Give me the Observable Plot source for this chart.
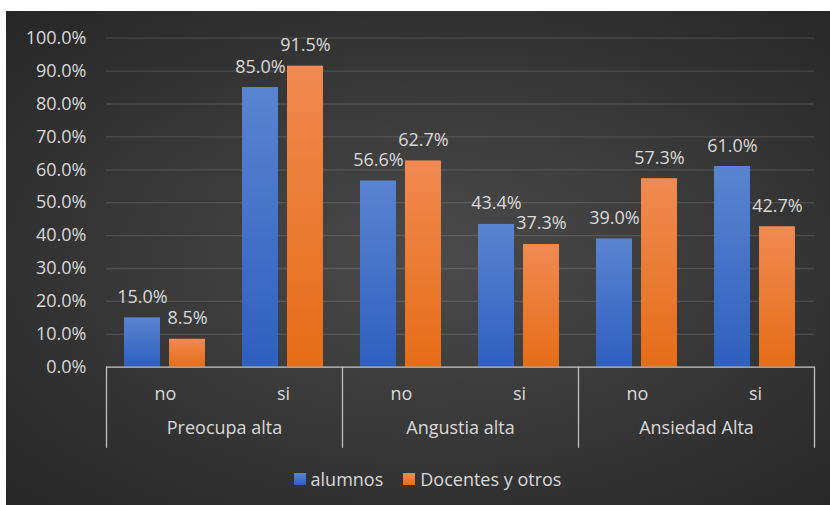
<!DOCTYPE html>
<html>
<head>
<meta charset="utf-8">
<script src="https://cdn.jsdelivr.net/npm/d3@7"></script>
<script src="https://cdn.jsdelivr.net/npm/@observablehq/plot@0.6"></script>
<style>
  html, body { margin: 0; padding: 0; background: #ffffff; width: 830px; height: 505px; overflow: hidden; }
  #panel {
    position: absolute; left: 6px; top: 11px; width: 824px; height: 494px;
    background: radial-gradient(ellipse farthest-corner at 52% 50%, #4b4b4b 0%, #3c3c3c 40%, #262626 100%);
    font-family: "Open Sans", sans-serif; color: #d9d9d9;
  }
  #legend {
    position: absolute; left: 0; top: 448px; width: 824px; height: 39px;
    display: flex; justify-content: center; align-items: center; padding-left: 19px; box-sizing: border-box;
    font-size: 18px; color: #d9d9d9;
  }
  .item { display: flex; align-items: center; margin: 0 10px; }
  .sw { width: 12px; height: 12px; margin-right: 5px; }
</style>
</head>
<body>
<div id="panel"><div id="chart"></div><div id="legend"></div></div>
<script>
// ---- data ----
const groups = ["Preocupa alta", "Angustia alta", "Ansiedad Alta"];
const subs = ["no", "si"];
const series = ["alumnos", "Docentes y otros"];
const alumnos = [0.150, 0.850, 0.566, 0.434, 0.390, 0.610];
const docentes = [0.085, 0.915, 0.627, 0.373, 0.573, 0.427];
const yTicks = [0, 0.1, 0.2, 0.3, 0.4, 0.5, 0.6, 0.7, 0.8, 0.9, 1.0];
const seriesColors = [["#5b84d0", "#2f5fbf"], ["#f08a52", "#e56d17"]];

// ---- build table ----
const keys = [];
groups.forEach(g => subs.forEach(s => keys.push(g + "|" + s)));
const rows = [];
keys.forEach((k, i) => {
  rows.push({key: k, series: series[0], value: alumnos[i]});
  rows.push({key: k, series: series[1], value: docentes[i]});
});
const fmt = d3.format(".1%");
const subOf = k => k.split("|")[1];

const W = 824, H = 448, mT = 26.7, mB = 92.3;
const plotH = H - mT - mB;
const lineColor = "#bfbfbf";
const FS = 18;

const sepOpts = {stroke: lineColor, strokeWidth: 1.3, insetTop: plotH, insetBottom: -80};

const plot = Plot.plot({
  width: W, height: H,
  marginLeft: 98, marginRight: 15, marginTop: mT, marginBottom: mB,
  style: {background: "transparent", color: "#d9d9d9", fontFamily: "'Open Sans', sans-serif", fontSize: FS + "px", overflow: "visible"},
  fx: {domain: keys, padding: 0, axis: null, label: null},
  x: {domain: series, paddingInner: 0.198, paddingOuter: 0.401, axis: null},
  y: {domain: [0, 1], axis: null, label: null},
  color: {domain: series, range: ["url(#gradA)", "url(#gradD)"]},
  marks: [
    Plot.gridY(yTicks, {stroke: "#d9d9d9", strokeOpacity: 0.15, strokeWidth: 1.3}),
    Plot.axisY(yTicks, {tickFormat: ".1%", tickSize: 0, tickPadding: 20, fontSize: FS, fill: "#d9d9d9", label: null}),
    Plot.barY(rows, {fx: "key", x: "series", y: "value", fill: "series"}),
    Plot.text(rows, {fx: "key", x: "series", y: "value", text: d => fmt(d.value), dy: -15, lineAnchor: "bottom", fill: "#d9d9d9", fontSize: FS}),
    Plot.ruleY([0], {stroke: lineColor, strokeWidth: 1.3}),
    Plot.axisFx({anchor: "bottom", tickSize: 0, tickPadding: 20, tickFormat: subOf, fontSize: FS, fill: "#d9d9d9", label: null}),
    Plot.text(groups, {fx: g => g + "|no", frameAnchor: "bottom-right", text: d => d, textAnchor: "middle", dy: 67, fill: "#d9d9d9", fontSize: FS}),
    ...groups.map(g => Plot.frame({fx: g + "|no", anchor: "left", ...sepOpts})),
    Plot.frame({fx: keys[keys.length - 1], anchor: "right", ...sepOpts})
  ]
});

// gradients for bars
const svg = d3.select(plot);
const defs = svg.insert("defs", ":first-child");
[["gradA", seriesColors[0]], ["gradD", seriesColors[1]]].forEach(([id, c]) => {
  const lg = defs.append("linearGradient").attr("id", id).attr("x1", 0).attr("y1", 0).attr("x2", 0).attr("y2", 1);
  lg.append("stop").attr("offset", "0%").attr("stop-color", c[0]);
  lg.append("stop").attr("offset", "100%").attr("stop-color", c[1]);
});
document.getElementById("chart").appendChild(plot);

// legend
const leg = d3.select("#legend");
series.forEach((s, i) => {
  const it = leg.append("div").attr("class", "item");
  it.append("div").attr("class", "sw").style("background", `linear-gradient(${seriesColors[i][0]}, ${seriesColors[i][1]})`);
  it.append("span").text(s);
});
</script>
</body>
</html>
